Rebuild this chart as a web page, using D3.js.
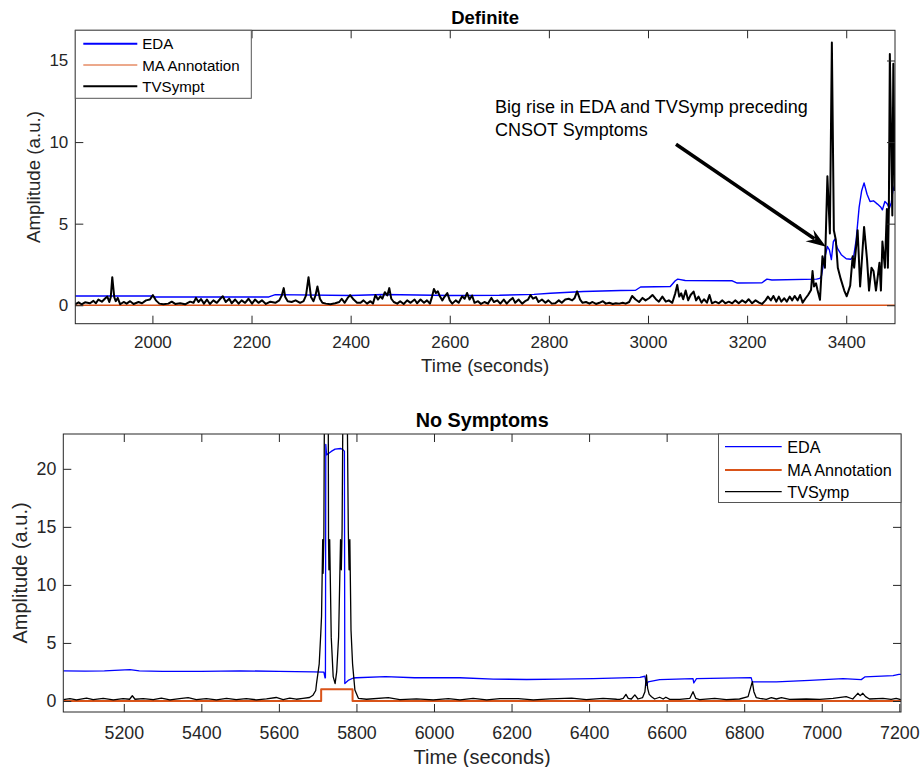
<!DOCTYPE html>
<html><head><meta charset="utf-8">
<script src="https://cdn.jsdelivr.net/npm/d3@7"></script>
<style>
html,body{margin:0;padding:0;background:#fff;}
svg{display:block;font-family:"Liberation Sans",Arial,Helvetica,sans-serif;}
</style></head>
<body>
<svg id="chart" width="921" height="767"></svg>
<script>
// ---------------- DATA: "Definite" panel ----------------
const defXTicks = [2000, 2200, 2400, 2600, 2800, 3000, 3200, 3400];
const defYTicks = [0, 5, 10, 15];
const defEdaT = [1844,1999,2005,2235,2248,2399,2467,2600,2700,2770,2803,2870,2945,2975,2985,3045,3055,3060,3075,3170,3180,3230,3240,3250,3340,3347,3350,3355,3362,3366,3370,3374,3377,3382,3390,3400,3409,3415,3420,3426,3431,3436,3442,3448,3455,3463,3470,3473,3478,3483,3487,3491,3494,3498];
const defEdaV = [0.57,0.57,0.51,0.51,0.65,0.6,0.66,0.6,0.61,0.67,0.74,0.84,0.9,0.92,1.12,1.15,1.5,1.6,1.52,1.5,1.36,1.38,1.6,1.55,1.6,1.65,1.8,2.7,3.6,3.4,2.8,3.9,4.05,3.5,3.1,2.85,2.82,3.0,4.0,6.0,7.0,7.5,6.8,6.36,6.4,6.2,6.0,5.85,6.36,6.2,5.95,6.3,7.0,7.38];
const defMaT = [1844, 3498];
const defMaV = [0, 0];
const defTvT = [1844,1851,1857,1864,1874,1881,1886,1891,1898,1905,1909,1913,1916,1919,1923,1926,1930,1935,1942,1948,1955,1962,1972,1979,1987,1995,2001,2007,2014,2022,2032,2039,2046,2056,2066,2076,2083,2088,2093,2098,2104,2110,2116,2123,2130,2137,2142,2148,2155,2160,2167,2174,2180,2187,2194,2201,2207,2214,2221,2229,2238,2248,2256,2261,2265,2268,2273,2281,2289,2298,2305,2310,2315,2320,2325,2329,2333,2338,2343,2350,2359,2369,2377,2382,2388,2394,2399,
2406,2413,2420,2426,2433,2440,2445,2450,2455,2460,2464,2469,2474,2478,2482,2487,2494,2500,2507,2514,2521,2529,2534,2541,2548,2554,2560,2564,2568,2572,2576,2580,2585,2589,2595,2600,2605,2612,2618,2625,2630,2635,2640,2645,2650,2657,2663,2670,2677,2684,2689,2696,2702,2709,2715,2721,2727,2732,2739,2746,2752,2758,2763,2768,2774,2779,2786,2793,2799,2806,2813,2820,2826,2833,2840,2847,2852,2857,2863,2868,2875,2882,2888,2895,2902,2909,2915,2922,2929,2935,2942,2949,
2955,2962,2968,2975,2982,2989,2995,3002,3009,3016,3022,3029,3036,3042,3049,3055,3059,3063,3067,3071,3076,3081,3086,3092,3097,3102,3108,3113,3119,3124,3129,3136,3143,3150,3156,3163,3170,3176,3183,3190,3197,3203,3210,3217,3224,3230,3237,3242,3248,3253,3259,3264,3269,3275,3280,3286,3291,3296,3302,3307,3312,3318,3323,3329,3332,3335,3339,3342,3347,
3352,3357,3362,3367,3371,3375,3379,3383,3389,3396,3401,3408,3413,3416,3423,3428,3436,3442,3446,3451,3455,3460,3467,3470,3473,3478,3482,3484,3486,3488,3493,3495,3498];
const defTvV = [0.06,0.18,0.06,0.18,0.12,0.27,0.12,0.35,0.22,0.43,0.53,0.2,0.5,1.72,0.5,0.25,0.45,0.06,0.2,0.1,0.25,0.08,0.2,0.12,0.3,0.35,0.62,0.3,0.1,0.06,0.1,0.22,0.08,0.12,0.06,0.22,0.15,0.45,0.2,0.38,0.1,0.35,0.08,0.3,0.15,0.4,0.55,0.2,0.4,0.12,0.35,0.1,0.3,0.15,0.4,0.1,0.35,0.15,0.3,0.08,0.22,0.15,0.3,0.6,1.05,0.5,0.25,0.2,0.3,0.15,0.25,0.6,1.72,0.5,0.25,0.6,1.15,0.4,0.15,0.1,0.06,0.12,0.2,0.4,0.15,0.45,0.62,
0.35,0.15,0.15,0.3,0.1,0.25,0.1,0.63,0.35,0.55,0.4,0.8,0.6,1.05,0.4,0.2,0.1,0.25,0.08,0.3,0.15,0.35,0.12,0.35,0.15,0.3,0.1,0.5,1.0,0.75,0.85,0.55,0.3,0.5,0.75,0.3,0.1,0.3,0.15,0.55,0.4,0.75,0.35,0.6,0.15,0.25,0.08,0.2,0.1,0.45,0.2,0.3,0.1,0.35,0.1,0.3,0.45,0.15,0.35,0.1,0.25,0.35,0.63,0.4,0.5,0.2,0.35,0.15,0.3,0.1,0.12,0.3,0.15,0.35,0.4,0.3,0.45,0.85,0.35,0.15,0.2,0.1,0.2,0.08,0.15,0.25,0.1,0.15,0.08,0.12,0.1,0.15,
0.1,0.2,0.57,0.35,0.2,0.45,0.3,0.43,0.63,0.37,0.22,0.53,0.22,0.3,0.15,0.73,1.25,0.53,0.73,0.37,0.9,0.3,0.63,0.84,0.3,0.53,0.16,0.37,0.16,0.63,0.12,0.22,0.12,0.3,0.12,0.22,0.12,0.3,0.12,0.3,0.16,0.37,0.12,0.3,0.16,0.08,0.3,0.53,0.3,0.57,0.22,0.53,0.22,0.43,0.22,0.53,0.3,0.57,0.3,0.63,0.16,0.43,0.63,0.94,2.1,1.15,1.35,0.94,0.33,
3.0,2.3,7.9,4.4,16.1,4.6,4.0,2.3,1.6,0.9,0.55,1.2,3.0,2.3,4.6,1.15,4.8,2.8,0.9,2.3,2.1,0.9,2.6,0.9,3.9,2.3,5.9,2.3,5.9,15.4,5.5,14.8,7.0];

// ---------------- DATA: "No Symptoms" panel ----------------
const noXTicks = [5200, 5400, 5600, 5800, 6000, 6200, 6400, 6600, 6800, 7000, 7200];
const noYTicks = [0, 5, 10, 15, 20];
const noEdaT = [5044,5100,5150,5216,5240,5300,5400,5500,5600,5688,5716,5719,5720,5721,5723,5735,5745,5760,5767,5769,5770,5780,5792,5800,5875,5950,6067,6153,6239,6325,6411,6531,6544,6548,6552,6582,6668,6670,6677,6818,6821,6883,6969,7055,7102,7111,7184,7199,7204];
const noEdaV = [2.6,2.58,2.6,2.7,2.6,2.55,2.55,2.6,2.55,2.5,2.48,2.0,2.0,22.1,21.2,21.5,21.7,21.75,21.6,21.5,1.5,1.8,1.98,2.0,2.1,2.0,2.0,1.89,1.85,1.89,1.93,2.04,2.13,1.35,1.64,1.84,1.93,1.55,1.93,2.01,1.64,1.64,1.78,1.93,1.84,2.07,2.19,2.3,2.3];
const noMaT = [5044, 5709, 5709, 5790, 5790, 7204];
const noMaV = [0, 0, 1, 1, 0, 0];
const noTvT = [5044,5061,5078,5104,5121,5147,5173,5198,5215,5222,5229,5250,5276,5297,5319,5344,5366,5387,5413,5439,5465,5490,5516,5542,5568,5593,5611,5628,5645,5662,5679,5688,5695,
5697,5704,5708,5710,5713,5714,5716,5718,5727,5728,5729,5731,5735,5740,5745,5749,5754,5759,5761,5763,5766,5775,5779,5781,5783,5786,5790,5796,5805,
5826,5882,5912,5955,5998,6037,6067,6101,6136,6170,6217,6256,6299,6355,6393,6436,6471,
6479,6488,6495,6501,6509,6518,6526,6538,6544,6548,6551,6555,6561,6569,6582,6591,6598,6608,6634,6660,6668,6675,6685,6724,6754,6788,6810,6816,6821,6825,6831,6840,6857,6870,6883,6896,6917,6960,6995,7029,7063,7080,7093,7099,7106,7113,7123,7158,7179,7192,7204];
const noTvV = [0.12,0.2,0.1,0.25,0.12,0.22,0.1,0.2,0.15,0.45,0.15,0.2,0.12,0.25,0.1,0.2,0.28,0.12,0.2,0.1,0.22,0.12,0.2,0.1,0.18,0.3,0.12,0.25,0.15,0.22,0.3,0.5,0.9,
1.5,3.2,5.8,7.3,13.9,11.0,14.2,30,30,13.9,11.3,13.9,5.5,2.1,1.5,2.5,5.5,13.9,11.3,14.7,30,30,14.7,11.3,13.9,6.1,3.2,0.95,0.23,
0.15,0.29,0.12,0.18,0.1,0.2,0.1,0.23,0.1,0.2,0.2,0.1,0.18,0.25,0.12,0.22,0.15,
0.14,0.23,0.57,0.23,0.17,0.52,0.17,0.29,0.8,2.24,1.09,0.57,0.37,0.17,0.32,0.17,0.32,0.14,0.14,0.23,0.8,0.23,0.12,0.23,0.12,0.17,0.37,1.09,1.67,0.8,0.29,0.23,0.14,0.29,0.17,0.29,0.14,0.17,0.14,0.23,0.37,0.17,0.66,0.46,0.66,0.37,0.17,0.23,0.14,0.23,0.12];

const colEDA = "#0000FF", colMA = "#D95319", colTV = "#000000", axCol = "#262626";

const svg = d3.select("#chart");

function zip(T, V) { return T.map((t, i) => [t, V[i]]); }

function panel(cfg) {
  const F = cfg.fonts;
  const x = d3.scaleLinear().domain(cfg.xDomain).range([cfg.left, cfg.right]);
  const y = d3.scaleLinear().domain(cfg.yDomain).range([cfg.bottom, cfg.top]);
  const g = svg.append("g");
  const clipId = "clip" + cfg.id;
  svg.append("clipPath").attr("id", clipId).append("rect")
    .attr("x", cfg.left).attr("y", cfg.top)
    .attr("width", cfg.right - cfg.left).attr("height", cfg.bottom - cfg.top);

  const line = d3.line().x(d => x(d[0])).y(d => y(d[1]));
  const plot = g.append("g").attr("clip-path", `url(#${clipId})`);
  cfg.series.forEach(s => {
    plot.append("path").datum(zip(s.t, s.v))
      .attr("fill", "none").attr("stroke", s.color).attr("stroke-width", s.width)
      .attr("stroke-linejoin", "round").attr("d", line);
  });

  const styleAxis = sel => {
    sel.select(".domain").remove();
    sel.selectAll(".tick line").attr("stroke", axCol);
    sel.selectAll(".tick text").attr("fill", axCol).style("font-size", F.tick + "px")
      .style("font-family", '"Liberation Sans",Arial,sans-serif');
  };
  g.append("g").attr("transform", `translate(0,${cfg.bottom})`)
    .call(d3.axisBottom(x).tickValues(cfg.xTicks).tickSizeInner(-8).tickSizeOuter(0).tickPadding(cfg.xPad).tickFormat(d3.format("d")))
    .call(styleAxis);
  g.append("g").attr("transform", `translate(0,${cfg.top})`)
    .call(d3.axisTop(x).tickValues(cfg.xTicks).tickSizeInner(-8).tickSizeOuter(0).tickFormat(""))
    .call(styleAxis);
  g.append("g").attr("transform", `translate(${cfg.left},0)`)
    .call(d3.axisLeft(y).tickValues(cfg.yTicks).tickSizeInner(-8).tickSizeOuter(0).tickPadding(7).tickFormat(d3.format("d")))
    .call(styleAxis);
  g.append("g").attr("transform", `translate(${cfg.right},0)`)
    .call(d3.axisRight(y).tickValues(cfg.yTicks).tickSizeInner(-8).tickSizeOuter(0).tickFormat(""))
    .call(styleAxis);
  g.append("rect").attr("x", cfg.left).attr("y", cfg.top)
    .attr("width", cfg.right - cfg.left).attr("height", cfg.bottom - cfg.top)
    .attr("fill", "none").attr("stroke", axCol).attr("stroke-width", 1);

  const cx = (cfg.left + cfg.right) / 2;
  g.append("text").attr("x", cx).attr("y", cfg.titleY).attr("text-anchor", "middle")
    .attr("font-weight", "bold").attr("font-size", F.title).attr("fill", "#000").text(cfg.title);
  g.append("text").attr("x", cx).attr("y", cfg.xLabelY).attr("text-anchor", "middle")
    .attr("font-size", F.label).attr("fill", axCol).text("Time (seconds)");
  g.append("text").attr("transform", `translate(${cfg.yLabelX},${(cfg.top + cfg.bottom) / 2}) rotate(-90)`)
    .attr("text-anchor", "middle").attr("dominant-baseline", "central")
    .attr("font-size", F.label).attr("fill", axCol).text("Amplitude (a.u.)");

  const L = cfg.legend;
  const lg = g.append("g");
  lg.append("rect").attr("x", L.x0).attr("y", L.y0).attr("width", L.x1 - L.x0).attr("height", L.y1 - L.y0)
    .attr("fill", "#fff").attr("stroke", "#555").attr("stroke-width", 1);
  L.items.forEach((it, i) => {
    const yy = L.rows[i];
    lg.append("line").attr("x1", L.lx0).attr("x2", L.lx1).attr("y1", yy).attr("y2", yy)
      .attr("stroke", it.color).attr("stroke-width", it.width);
    lg.append("text").attr("x", L.tx).attr("y", yy).attr("dominant-baseline", "central")
      .attr("font-size", F.legend).attr("fill", "#000").text(it.label);
  });
  return {x, y, g};
}

const panelDef = panel({
  id: "A", left: 75.3, right: 895, top: 30.3, bottom: 323.7,
  xDomain: [1844.4, 3498.4], yDomain: [-1.13, 16.85],
  xTicks: defXTicks, yTicks: defYTicks, xPad: 12.5,
  fonts: {tick: 17, label: 18.7, title: 18.5, legend: 15.1},
  title: "Definite", titleY: 24, xLabelY: 372, yLabelX: 33.5,
  series: [
    {t: defEdaT, v: defEdaV, color: colEDA, width: 1.4},
    {t: defMaT, v: defMaV, color: colMA, width: 1.3},
    {t: defTvT, v: defTvV, color: colTV, width: 2}
  ],
  legend: {x0: 75.3, y0: 30.3, x1: 251.3, y1: 98.3, lx0: 83.3, lx1: 137.3, tx: 142.3,
    rows: [43.7, 65, 86.2],
    items: [{label: "EDA", color: colEDA, width: 2}, {label: "MA Annotation", color: colMA, width: 1}, {label: "TVSympt", color: colTV, width: 2}]}
});

const panelNo = panel({
  id: "B", left: 63.3, right: 901, top: 434, bottom: 712,
  xDomain: [5044, 7204.4], yDomain: [-0.95, 23.0],
  xTicks: noXTicks, yTicks: noYTicks, xPad: 14,
  fonts: {tick: 17.8, label: 20, title: 19.8, legend: 16.2},
  title: "No Symptoms", titleY: 427.3, xLabelY: 764.3, yLabelX: 20,
  series: [
    {t: noEdaT, v: noEdaV, color: colEDA, width: 1.3},
    {t: noMaT, v: noMaV, color: colMA, width: 2},
    {t: noTvT, v: noTvV, color: colTV, width: 1.3}
  ],
  legend: {x0: 718.5, y0: 434, x1: 901, y1: 502.5, lx0: 725, lx1: 781.7, tx: 787.3,
    rows: [446.7, 470, 491.7],
    items: [{label: "EDA", color: colEDA, width: 1.2}, {label: "MA Annotation", color: colMA, width: 2}, {label: "TVSymp", color: colTV, width: 1.2}]}
});

// annotation with arrow (Definite panel)
const ann = panelDef.g.append("g");
ann.append("text").attr("x", 495).attr("y", 107.3).attr("dominant-baseline", "central")
  .attr("font-size", 18).attr("fill", "#000").text("Big rise in EDA and TVSymp preceding");
ann.append("text").attr("x", 495).attr("y", 130).attr("dominant-baseline", "central")
  .attr("font-size", 18).attr("fill", "#000").text("CNSOT Symptoms");
const ax0 = 676, ay0 = 144.3, ax1 = 826, ay1 = 246.7;
const ang = Math.atan2(ay1 - ay0, ax1 - ax0);
const hl = 17, hw = 7;
const bx = ax1 - hl * Math.cos(ang), by = ay1 - hl * Math.sin(ang);
ann.append("line").attr("x1", ax0).attr("y1", ay0).attr("x2", bx + 3 * Math.cos(ang)).attr("y2", by + 3 * Math.sin(ang))
  .attr("stroke", "#000").attr("stroke-width", 3.6);
ann.append("path").attr("d",
  `M${ax1},${ay1} L${bx - hw * Math.sin(ang) - 3 * Math.cos(ang)},${by + hw * Math.cos(ang) - 3 * Math.sin(ang)} L${bx + 4 * Math.cos(ang)},${by + 4 * Math.sin(ang)} L${bx + hw * Math.sin(ang) - 3 * Math.cos(ang)},${by - hw * Math.cos(ang) - 3 * Math.sin(ang)} Z`)
  .attr("fill", "#000");
</script>
</body></html>
